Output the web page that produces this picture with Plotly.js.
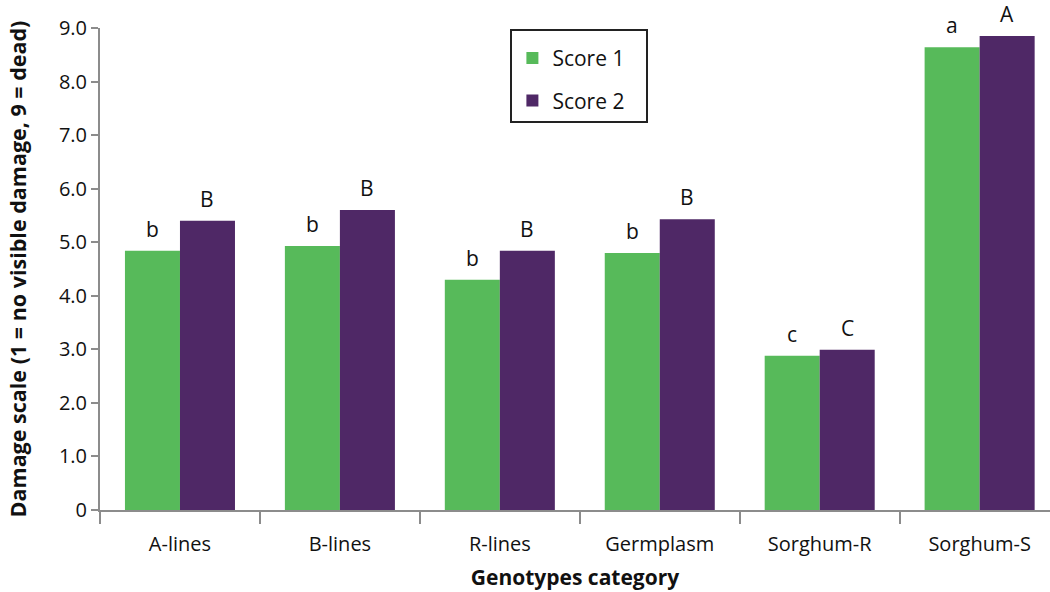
<!DOCTYPE html>
<html>
<head>
<meta charset="utf-8">
<script src="https://cdn.plot.ly/plotly-3.0.1.min.js"></script>
<style>html,body{margin:0;padding:0;background:#fff;}#chart{width:1050px;height:592px;}</style>
</head>
<body>
<div id="chart"></div>
<script>
const categories = ["A-lines", "B-lines", "R-lines", "Germplasm", "Sorghum-R", "Sorghum-S"];
const score1 = [4.84, 4.93, 4.30, 4.80, 2.88, 8.64];
const score2 = [5.40, 5.60, 4.84, 5.43, 2.99, 8.85];
const letters1 = ["b", "b", "b", "b", "c", "a"];
const letters2 = ["B", "B", "B", "B", "C", "A"];
const yTickVals = [0, 1, 2, 3, 4, 5, 6, 7, 8, 9];
const yTickText = ["0", "1.0", "2.0", "3.0", "4.0", "5.0", "6.0", "7.0", "8.0", "9.0"];

const FONT = "Open Sans, Noto Sans, sans-serif";
const GREEN = "#57BA5A";
const PURPLE = "#4F2866";
const AXIS = "#8C8C8C";

const traces = [
  {type: "bar", name: "Score 1\u00a0\u00a0\u00a0", legendgroup: "g1", x: categories, y: score1, marker: {color: GREEN}},
  {type: "bar", name: "Score 2\u00a0\u00a0\u00a0", legendgroup: "g2", x: categories, y: score2, marker: {color: PURPLE}}
];

const annotations = [];
categories.forEach((c, i) => {
  annotations.push({x: c, y: score1[i], text: letters1[i], showarrow: false, xshift: -27.5, yshift: 6,
    yanchor: "bottom", font: {family: FONT, size: 21, color: "#111"}});
  annotations.push({x: c, y: score2[i], text: letters2[i], showarrow: false, xshift: 27.5, yshift: 6,
    yanchor: "bottom", font: {family: FONT, size: 21, color: "#111"}});
});

const layout = {
  width: 1050, height: 592,
  margin: {l: 100, r: 0, t: 28, b: 82},
  paper_bgcolor: "#fff", plot_bgcolor: "#fff",
  font: {family: FONT, size: 20, color: "#111"},
  barmode: "group", bargap: 0.312, bargroupgap: 0,
  showlegend: true,
  legend: {x: 0.432, y: 0.997, xanchor: "left", yanchor: "top",
    bordercolor: "#222", borderwidth: 2, bgcolor: "#fff",
    title: {text: " ", font: {size: 5}},
    font: {family: FONT, size: 21, color: "#111"}, tracegroupgap: 12},
  xaxis: {
    type: "category", range: [-0.5, 5.44],
    showline: true, linecolor: AXIS, linewidth: 2,
    ticks: "outside", tickson: "boundaries", ticklen: 12, tickwidth: 2, tickcolor: AXIS,
    ticklabelstandoff: 15,
    showgrid: false, zeroline: false,
    tickfont: {family: FONT, size: 20, color: "#111"},
    title: {text: "<b>Genotypes category</b>", font: {family: FONT, size: 21, color: "#111"}, standoff: 14}
  },
  yaxis: {
    range: [0, 9], tickvals: yTickVals, ticktext: yTickText,
    showline: true, linecolor: AXIS, linewidth: 2,
    ticks: "outside", ticklen: 7, tickwidth: 2, tickcolor: AXIS,
    showgrid: false, zeroline: false,
    tickfont: {family: FONT, size: 20, color: "#111"},
    title: {text: "<b>Damage scale (1 = no visible damage, 9 = dead)</b>", font: {family: FONT, size: 21.5, color: "#111"}, standoff: 26}
  },
  annotations: annotations
};

Plotly.newPlot("chart", traces, layout, {displayModeBar: false, staticPlot: true});
</script>
</body>
</html>
